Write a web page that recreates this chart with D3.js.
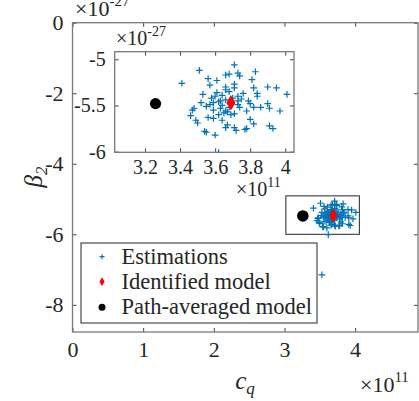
<!DOCTYPE html>
<html lang="en">
<head>
<meta charset="utf-8">
<title>Estimations scatter</title>
<script src="https://d3js.org/d3.v7.min.js"></script>
<style>
  body { margin: 0; background: white; }
  svg text { font-family: "Liberation Serif", "DejaVu Serif", serif !important; fill: #262626; }
</style>
</head>
<body>
<div id="chart"></div>
<script>
// data (c_q in 1e11, beta_2 in 1e-27)
var estCq = [3.41,3.51,3.71,3.83,3.66,3.68,3.73,3.74,3.56,3.61,3.81,3.71,3.66,3.71,3.57,3.90,3.95,4.01,3.82,3.53,
             3.61,3.66,3.68,3.76,3.84,3.84,3.64,3.73,3.52,3.57,3.59,3.63,3.66,3.73,3.75,3.79,3.80,3.48,3.47,3.55,
             3.59,3.63,3.65,3.62,3.67,3.71,3.78,3.82,3.86,3.90,3.91,3.97,3.46,3.49,3.50,3.56,3.59,3.64,3.67,3.66,
             3.71,3.80,3.82,3.77,3.72,3.78,3.91,3.93,3.54,3.55,3.60,3.73,3.60,3.64,3.68,3.70,3.62,3.66,3.74,3.69,
             3.58,3.62,3.53];
var estBeta = [-5.26,-5.12,-5.06,-5.135,-5.17,-5.16,-5.15,-5.18,-5.21,-5.23,-5.22,-5.27,-5.30,-5.31,-5.28,-5.30,-5.31,-5.38,-5.31,-5.38,
               -5.36,-5.33,-5.35,-5.37,-5.37,-5.40,-5.39,-5.40,-5.47,-5.49,-5.47,-5.45,-5.44,-5.45,-5.43,-5.45,-5.48,-5.53,-5.55,-5.51,
               -5.55,-5.53,-5.58,-5.60,-5.57,-5.59,-5.56,-5.52,-5.52,-5.48,-5.53,-5.56,-5.61,-5.66,-5.69,-5.63,-5.64,-5.66,-5.71,-5.74,
               -5.74,-5.65,-5.70,-5.76,-5.77,-5.75,-5.72,-5.75,-5.78,-5.79,-5.82,-5.49,-5.40,-5.50,-5.52,-5.42,-5.46,-5.56,-5.52,-5.60,
               -5.42,-6.01,-7.15];
var identified = [3.69, -5.47];
var pathAveraged = [3.26, -5.48];
var legendLabels = ["Estimations", "Identified model", "Path-averaged model"];
var mainXTicks = [0, 1, 2, 3, 4];
var mainYTicks = [0, -2, -4, -6, -8];
var insetXTicks = [3.2, 3.4, 3.6, 3.8, 4];
var insetYTicks = [-5, -5.5, -6];

var est = estCq.map(function(d, i) { return [d, estBeta[i]]; });

var w = 419, h = 401;
var svg = d3.select("#chart").append("svg").attr("width", w).attr("height", h);

var blue = "#0072BD", axisCol = "#7a7a7a";
var plus = "M-3.3,0H3.3M0,-3.3V3.3";

function drawAxes(g, x, y, xt, yt, fs, xfmt, yfmt, labelDy) {
  var x0 = x.range()[0], x1 = x.range()[1], y0 = y.range()[0], y1 = y.range()[1];
  g.append("g").attr("transform", "translate(0," + y0 + ")")
    .call(d3.axisBottom(x).tickValues(xt).tickSizeInner(-4).tickSizeOuter(0).tickPadding(labelDy).tickFormat(xfmt));
  g.append("g").attr("transform", "translate(0," + y1 + ")")
    .call(d3.axisTop(x).tickValues(xt).tickSizeInner(-4).tickSizeOuter(0).tickFormat(""));
  g.append("g").attr("transform", "translate(" + x0 + ",0)")
    .call(d3.axisLeft(y).tickValues(yt).tickSizeInner(-4).tickSizeOuter(0).tickPadding(9).tickFormat(yfmt));
  g.append("g").attr("transform", "translate(" + x1 + ",0)")
    .call(d3.axisRight(y).tickValues(yt).tickSizeInner(-4).tickSizeOuter(0).tickFormat(""));
  g.selectAll(".domain").remove();
  g.selectAll("g").attr("font-family", null);
  g.selectAll(".tick line").attr("stroke", "#444").attr("stroke-width", 1);
  g.selectAll(".tick text").style("font-size", fs + "px").attr("fill", "#262626");
  g.append("rect").attr("x", x0).attr("y", y1).attr("width", x1 - x0).attr("height", y0 - y1)
    .attr("fill", "none").attr("stroke", axisCol).attr("stroke-width", 1.3);
}

function fmt(d) { return d < 0 ? "-" + Math.abs(d) : "" + d; }

// main axes
var x = d3.scaleLinear().domain([0, 4.89]).range([72.5, 418]);
var y = d3.scaleLinear().domain([-8.77, 0]).range([332, 22.7]);
var gMain = svg.append("g");
drawAxes(gMain, x, y, mainXTicks, mainYTicks, 22, fmt, fmt, 9);

// zoom box
gMain.append("rect")
  .attr("x", x(3.02)).attr("y", y(-4.91))
  .attr("width", x(4.06) - x(3.02)).attr("height", y(-6.0) - y(-4.91))
  .attr("fill", "none").attr("stroke", "#262626").attr("stroke-width", 1);

gMain.selectAll("path.est").data(est).enter().append("path")
  .attr("class", "est").attr("d", plus)
  .attr("transform", function(d) { return "translate(" + x(d[0]) + "," + y(d[1]) + ")"; })
  .attr("stroke", blue).attr("stroke-width", 1.2).attr("fill", "none");
gMain.append("path").attr("d", d3.symbol(d3.symbolDiamond, 60)())
  .attr("transform", "translate(" + x(identified[0]) + "," + y(identified[1]) + ")").attr("fill", "red");
gMain.append("circle").attr("cx", x(pathAveraged[0])).attr("cy", y(pathAveraged[1])).attr("r", 5.8).attr("fill", "black");

// axis labels and exponents
svg.append("text").attr("x", 75).attr("y", 16).style("font-size", "22px")
  .html('×10<tspan dy="-10" style="font-size:15px">-27</tspan>');
svg.append("text").attr("x", 360).attr("y", 392).style("font-size", "22px")
  .html('×10<tspan dy="-10" style="font-size:15px">11</tspan>');
svg.append("text").attr("x", 245).attr("y", 389).attr("text-anchor", "middle").style("font-size", "25px")
  .attr("font-style", "italic").html('c<tspan dy="5" style="font-size:17px">q</tspan>');
svg.append("text").attr("transform", "translate(42,177) rotate(-90)").attr("text-anchor", "middle")
  .style("font-size", "25px").attr("font-style", "italic").html('β<tspan dy="5" style="font-size:17px">2</tspan>');

// legend
var lg = svg.append("g");
lg.append("rect").attr("x", 81).attr("y", 243).attr("width", 236).attr("height", 80)
  .attr("fill", "white").attr("stroke", "#262626").attr("stroke-width", 1);
var rows = [256.7, 281.7, 307.3];
legendLabels.forEach(function(t, i) {
  lg.append("text").attr("x", 121.5).attr("y", rows[i] + 7).style("font-size", "22.5px").text(t);
});
lg.append("path").attr("d", "M-2.5,0H2.5M0,-2.5V2.5").attr("transform", "translate(102," + rows[0] + ")")
  .attr("stroke", blue).attr("stroke-width", 1.2);
lg.append("path").attr("d", d3.symbol(d3.symbolDiamond, 22)()).attr("transform", "translate(102," + rows[1] + ")").attr("fill", "red");
lg.append("circle").attr("cx", 102).attr("cy", rows[2]).attr("r", 3.5).attr("fill", "black");

// inset
var xi = d3.scaleLinear().domain([3.027, 4.05]).range([114.7, 294]);
var yi = d3.scaleLinear().domain([-6.007, -4.918]).range([152.3, 51.7]);
var gIn = svg.append("g");
gIn.append("rect").attr("x", 114.7).attr("y", 51.7).attr("width", 294 - 114.7).attr("height", 152.3 - 51.7).attr("fill", "white");
drawAxes(gIn, xi, yi, insetXTicks, insetYTicks, 20, function(d) { return "" + d; }, fmt, 8);

svg.append("clipPath").attr("id", "inclip").append("rect")
  .attr("x", 114.7).attr("y", 51.7).attr("width", 294 - 114.7).attr("height", 152.3 - 51.7);
var gInPts = gIn.append("g").attr("clip-path", "url(#inclip)");
gInPts.selectAll("path.est").data(est).enter().append("path")
  .attr("class", "est").attr("d", plus)
  .attr("transform", function(d) { return "translate(" + xi(d[0]) + "," + yi(d[1]) + ")"; })
  .attr("stroke", blue).attr("stroke-width", 1.2).attr("fill", "none");
gInPts.append("path").attr("d", d3.symbol(d3.symbolDiamond, 70)())
  .attr("transform", "translate(" + xi(identified[0]) + "," + yi(identified[1]) + ")").attr("fill", "red");
gInPts.append("circle").attr("cx", xi(pathAveraged[0])).attr("cy", yi(pathAveraged[1])).attr("r", 5.6).attr("fill", "black");

svg.append("text").attr("x", 116).attr("y", 45).style("font-size", "20px")
  .html('×10<tspan dy="-9" style="font-size:14px">-27</tspan>');
svg.append("text").attr("x", 236).attr("y", 196).style("font-size", "20px")
  .html('×10<tspan dy="-9" style="font-size:14px">11</tspan>');
</script>
</body>
</html>
